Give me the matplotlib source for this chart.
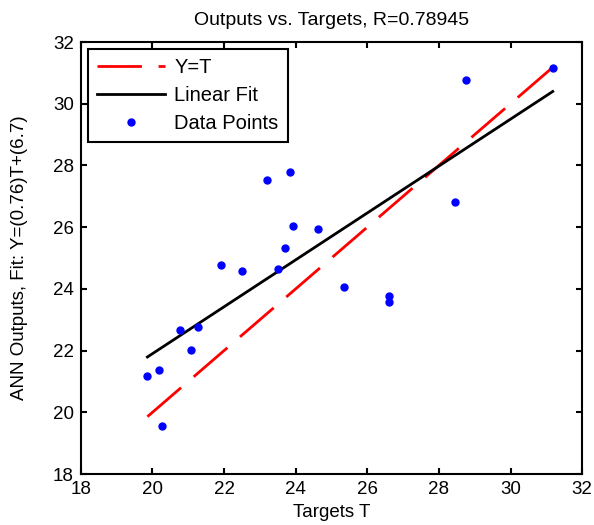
import numpy as np
import matplotlib.pyplot as plt

plt.rcParams['font.family'] = ['Liberation Sans', 'DejaVu Sans']

# targets and network outputs
targets = [19.86, 20.19, 20.28, 20.78, 21.09, 21.28, 21.91, 22.51, 23.19, 23.83,
           23.93, 24.62, 23.70, 23.52, 25.35, 26.62, 26.62, 28.45, 28.75, 31.18]
outputs = [21.19, 21.38, 19.57, 22.67, 22.01, 22.76, 24.78, 24.59, 27.52, 27.80,
           26.03, 25.93, 25.31, 24.63, 24.07, 23.78, 23.58, 26.81, 30.77, 31.16]
slope = 0.76
intercept = 6.7
r_value = 0.78945

t = np.array(targets)
o = np.array(outputs)
xs = np.linspace(t.min(), t.max(), 100)

fig = plt.figure(figsize=(5.94, 5.25), dpi=100)
ax = fig.add_axes([0.136, 0.097, 0.844, 0.823])

ax.plot(xs, xs, color='red', lw=2, linestyle=(0, (16, 6)), label='Y=T')
ax.plot(xs, slope * xs + intercept, color='black', lw=2, label='Linear Fit')
ax.plot(t, o, 'o', color='blue', markersize=5, label='Data Points')

ax.set_xlim(18, 32)
ax.set_ylim(18, 32)
ax.set_xticks(np.arange(18, 33, 2))
ax.set_yticks(np.arange(18, 33, 2))
ax.tick_params(direction='in', top=True, right=True, length=4, width=1.5,
               labelsize=13.5, pad=5)
for s in ax.spines.values():
    s.set_linewidth(1.5)

ax.set_title('Outputs vs. Targets, R=%.5f' % r_value, fontsize=14, pad=12)
ax.set_xlabel('Targets T', fontsize=13.5, labelpad=4)
ax.set_ylabel('ANN Outputs, Fit: Y=(%.2g)T+(%.2g)' % (slope, intercept),
              fontsize=13.5)
ax.yaxis.set_label_coords(-0.105, 0.5)

leg = ax.legend(loc='upper left', fontsize=14.5, fancybox=False, framealpha=1,
                edgecolor='black', borderaxespad=0.35, handlelength=3.4,
                handletextpad=0.45, labelspacing=0.45, borderpad=0.45)
leg.get_frame().set_linewidth(1.5)

plt.savefig('out.png', dpi=100)
